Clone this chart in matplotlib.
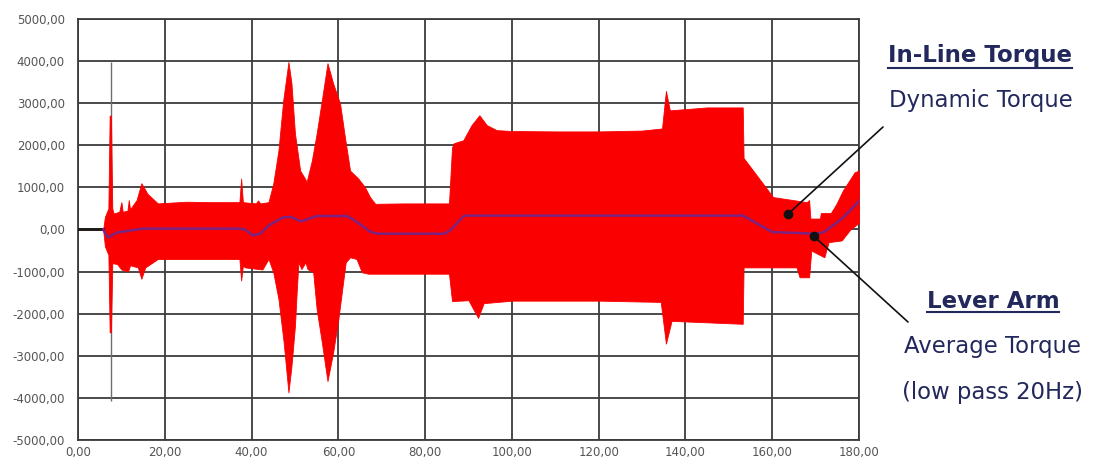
import matplotlib
matplotlib.use("Agg")
import matplotlib.pyplot as plt
import numpy as np
from matplotlib.lines import Line2D
from matplotlib.transforms import IdentityTransform

# ---------------- data ----------------
upper_t = [0, 5.8, 6.2, 7.0, 7.3, 7.6, 7.9, 8.2, 9.5, 10.0, 10.3, 11.4, 11.7, 12.0, 13.5,
           14.6, 16.0, 18.4, 25, 30, 37.2, 37.6, 38.0, 41.0, 41.5, 42.0, 43.9, 45.0, 46.2,
           47.3, 48.5, 49.2, 50.0, 51.2, 52.3, 52.7, 53.9, 55.0, 56.2, 57.5, 58.8, 60.4,
           61.5, 62.7, 64.6, 66.1, 67.3, 68.5, 75, 85.5, 86.2, 86.6, 88.8, 90.7, 92.5,
           94.2, 96.5, 100, 110, 120, 130, 134.6, 135.5, 136.4, 145, 153.2, 153.4, 160.2,
           168.0, 168.5, 168.8, 171.0, 171.2, 173.5, 174.8, 176.3, 179.0, 180.0]
upper_v = [0, 0, 300, 500, 2700, 2710, 500, 380, 420, 650, 420, 450, 700, 480, 700,
           1100, 850, 620, 660, 650, 650, 1210, 650, 620, 690, 620, 650, 1090, 1880,
           3070, 3980, 3470, 2280, 1400, 1210, 1130, 1640, 2280, 3070, 3950, 3470, 2990,
           2200, 1400, 1210, 1010, 770, 610, 620, 620, 1950, 2050, 2120, 2480, 2714,
           2480, 2360, 2340, 2330, 2330, 2350, 2400, 3290, 2830, 2900, 2900, 1700, 770,
           650, 700, 260, 260, 390, 390, 610, 930, 1360, 1400]

lower_t = [0, 5.8, 6.2, 7.0, 7.3, 7.6, 7.9, 9.0, 10.0, 11.5, 12.0, 13.8, 14.6, 15.5,
           18.4, 37.2, 37.6, 38.0, 38.5, 42.5, 43.9, 45.0, 46.2, 47.4, 48.5, 49.2, 50.0,
           50.4, 50.8, 51.5, 52.4, 52.9, 54.2, 55.0, 56.2, 57.5, 58.8, 60.0, 61.1, 61.7,
           62.7, 64.2, 65.4, 66.9, 85.5, 86.2, 90.0, 92.2, 93.5, 100, 120, 134.3, 135.5,
           136.8, 153.2, 153.4, 165.6, 166.3, 168.5, 169.0, 172.0, 173.0, 176.0, 178.0, 180.0]
lower_v = [0, 0, -400, -600, -2440, -2440, -800, -820, -950, -1000, -850, -900, -1170, -900,
           -700, -700, -1210, -860, -900, -950, -700, -1015, -1650, -2680, -3870, -3240, -2290,
           -1490, -780, -940, -780, -940, -1015, -1890, -2680, -3600, -2920, -2130, -1250, -780,
           -660, -700, -1015, -1050, -1050, -1700, -1680, -2100, -1750, -1690, -1690, -1720, -2710,
           -2170, -2240, -900, -900, -1135, -1135, -500, -660, -300, -260, 0, 160]

avg_t = [5.8, 6.9, 9.0, 15, 37, 38.5, 40.3, 42, 44, 47.3, 49, 51.5, 53, 55, 62, 64,
         67.3, 69, 84.5, 86, 89, 153.3, 160, 170, 172, 176, 179.8, 180]
avg_v = [0, -190, -70, 20, 20, 0, -140, -100, 100, 290, 300, 190, 250, 320, 320, 200,
         -50, -100, -100, 0, 330, 330, -60, -100, -60, 250, 650, 690]

zero_t = [0, 5.8]
zero_v = [0, 0]

spike_t = [7.7]
spike_top = [3980]
spike_bottom = [-4070]

x_ticks = [0, 20, 40, 60, 80, 100, 120, 140, 160, 180]
y_ticks = [-5000, -4000, -3000, -2000, -1000, 0, 1000, 2000, 3000, 4000, 5000]

dot_t = [163.7, 169.6]
dot_v = [374, -160]

# ---------------- figure ----------------
fig = plt.figure(figsize=(10.94, 4.62), dpi=100)
ax = fig.add_axes([78 / 1094, 1 - 440 / 462, (859 - 78) / 1094, (440 - 19) / 462])

grid_t = np.unique(np.concatenate([upper_t, lower_t]))
up = np.interp(grid_t, upper_t, upper_v)
lo = np.interp(grid_t, lower_t, lower_v)
ax.fill_between(grid_t, lo, up, color="#fb0000", linewidth=0.6, edgecolor="#fb0000", zorder=3)
ax.vlines(spike_t, spike_bottom, spike_top, color="#6e6e6e", linewidth=1.0, zorder=2.5)
ax.plot(zero_t, zero_v, color="#1a1a1a", linewidth=2.0, zorder=4)
ax.plot(avg_t, avg_v, color="#7a2382", linewidth=1.8, zorder=4)

ax.set_xlim(0, 180)
ax.set_ylim(-5000, 5000)
ax.set_xticks(x_ticks)
ax.set_yticks(y_ticks)
ax.set_xticklabels([f"{v:.2f}".replace(".", ",") for v in x_ticks])
ax.set_yticklabels([f"{v:.2f}".replace(".", ",") for v in y_ticks])
ax.tick_params(axis="y", length=0, labelsize=8.5, labelcolor="#555555", pad=9.4)
ax.tick_params(axis="x", length=0, labelsize=8.5, labelcolor="#555555", pad=4)
ax.grid(True, color="#3c3c3c", linewidth=1.3, zorder=1)
ax.set_axisbelow(True)
for s in ax.spines.values():
    s.set_color("#3c3c3c")
    s.set_linewidth(1.3)

# annotation dots and leader lines
ax.plot(dot_t, dot_v, "o", color="#111111", markersize=6, zorder=6)
ax.annotate("", xy=(dot_t[0], dot_v[0]), xycoords="data", xytext=(883, 462 - 127),
            textcoords="figure pixels", annotation_clip=False,
            arrowprops=dict(arrowstyle="-", color="#111111", lw=1.2, shrinkA=0, shrinkB=0))
ax.annotate("", xy=(dot_t[1], dot_v[1]), xycoords="data", xytext=(908, 462 - 322),
            textcoords="figure pixels", annotation_clip=False,
            arrowprops=dict(arrowstyle="-", color="#111111", lw=1.2, shrinkA=0, shrinkB=0))

navy = "#22285c"
fam = "DejaVu Sans"
t1 = fig.text(980 / 1094, 1 - 62 / 462, "In-Line Torque", ha="center", va="baseline",
              fontsize=16.5, fontweight="bold", color=navy, family=fam)
fig.text(981 / 1094, 1 - 107 / 462, "Dynamic Torque", ha="center", va="baseline",
         fontsize=16.4, color=navy, family=fam)
t2 = fig.text(993 / 1094, 1 - 308 / 462, "Lever Arm", ha="center", va="baseline",
              fontsize=16.5, fontweight="bold", color=navy, family=fam)
fig.text(993 / 1094, 1 - 353 / 462, "Average Torque", ha="center", va="baseline",
         fontsize=16.4, color=navy, family=fam)
fig.text(993 / 1094, 1 - 399 / 462, "(low pass 20Hz)", ha="center", va="baseline",
         fontsize=16.4, color=navy, family=fam)

fig.canvas.draw()
r = fig.canvas.get_renderer()
for t, yline in ((t1, 462 - 68), (t2, 462 - 312)):
    bb = t.get_window_extent(r)
    fig.add_artist(Line2D([bb.x0, bb.x1], [yline, yline], color=navy, linewidth=1.5,
                          transform=IdentityTransform()))

fig.savefig("out.png", dpi=100)
